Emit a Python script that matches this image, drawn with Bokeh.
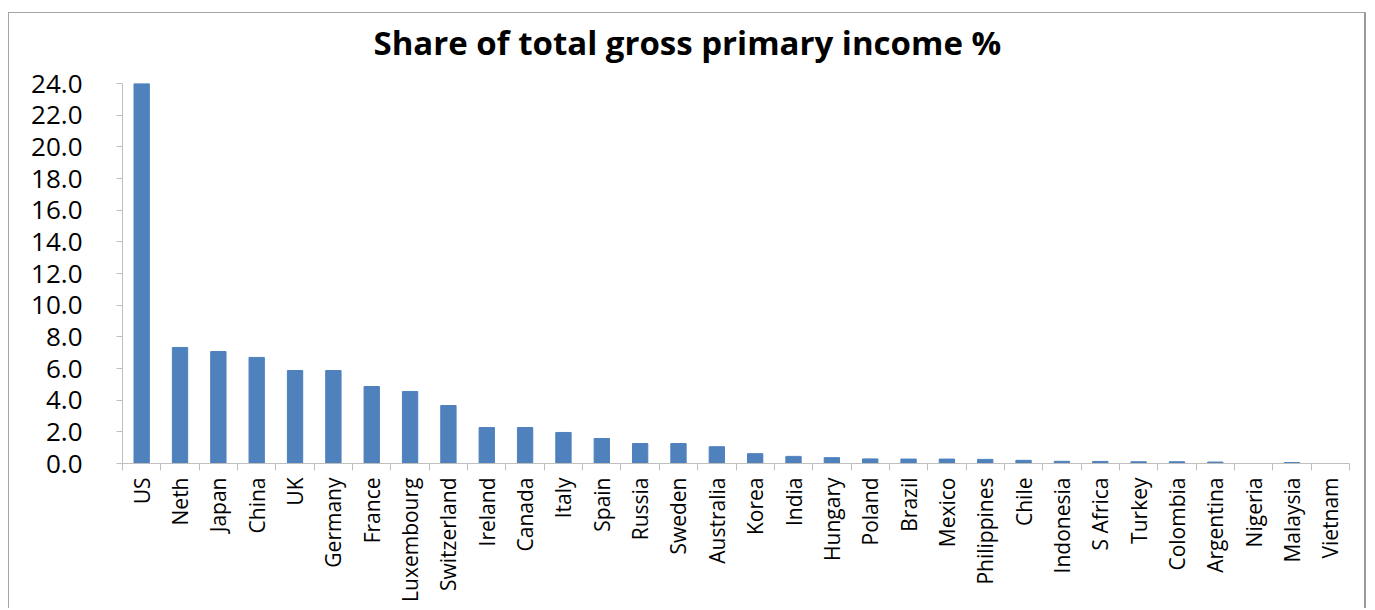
import numpy as np
from bokeh.plotting import figure
from bokeh.models import FixedTicker, Range1d, ColumnDataSource, NumeralTickFormatter, Title
from bokeh.embed import file_html
from bokeh.resources import INLINE

countries = ["US", "Neth", "Japan", "China", "UK", "Germany", "France", "Luxembourg",
             "Switzerland", "Ireland", "Canada", "Italy", "Spain", "Russia", "Sweden",
             "Australia", "Korea", "India", "Hungary", "Poland", "Brazil", "Mexico",
             "Philippines", "Chile", "Indonesia", "S Africa", "Turkey", "Colombia",
             "Argentina", "Nigeria", "Malaysia", "Vietnam"]
shares = [24.0, 7.33, 7.07, 6.70, 5.87, 5.87, 4.86, 4.55,
          3.66, 2.27, 2.27, 1.96, 1.58, 1.26, 1.26,
          1.06, 0.62, 0.45, 0.37, 0.29, 0.28, 0.28,
          0.26, 0.20, 0.14, 0.13, 0.11, 0.11,
          0.09, 0.0, 0.06, 0.0]
y_ticks = [0, 2, 4, 6, 8, 10, 12, 14, 16, 18, 20, 22, 24]
title_text = "Share of total gross primary income %"

n = len(countries)
x = np.arange(n) + 0.5
src = ColumnDataSource(dict(x=x, top=shares, name=countries))

p = figure(width=1358, height=596, output_backend="svg", toolbar_location=None,
           x_range=Range1d(0, n), y_range=Range1d(0, 24),
           min_border_left=113, min_border_right=18, min_border_top=69, min_border_bottom=146)
p.margin = (12, 0, 0, 8)
p.styles = {"border-top": "1px solid #a6a6a6", "border-left": "1px solid #a6a6a6",
            "border-right": "2px solid #9a9a9a"}

p.vbar(x="x", top="top", width=0.4, source=src, color="#4F81BD")

# thin spacer between plot frame and title, lifting the title up
spacer = Title(text=" ", text_font_size="1px", standoff=8)
p.add_layout(spacer, "above")
main_title = Title(text=title_text, text_font="Open Sans", text_font_style="bold",
                   text_font_size="33px", align="left", offset=251,
                   vertical_align="top", standoff=12, text_color="#000000")
p.add_layout(main_title, "above")

p.xgrid.visible = False
p.ygrid.visible = False
p.outline_line_color = None

gray = "#bfbfbf"
xa = p.xaxis[0]
xa.ticker = FixedTicker(ticks=list(x), minor_ticks=list(range(n + 1)))
xa.major_label_overrides = {float(v): c for v, c in zip(x, countries)}
xa.major_label_orientation = np.pi / 2
xa.major_tick_out = 0
xa.major_tick_in = 0
xa.minor_tick_out = 7
xa.minor_tick_in = 0
xa.minor_tick_line_color = gray
xa.axis_line_color = gray
xa.major_label_standoff = 7
xa.major_label_text_font = "Open Sans"
xa.major_label_text_font_size = "21px"
xa.major_label_text_color = "#000000"

ya = p.yaxis[0]
ya.ticker = FixedTicker(ticks=y_ticks)
ya.formatter = NumeralTickFormatter(format="0.0")
ya.major_tick_out = 6
ya.major_tick_in = 0
ya.minor_tick_line_color = None
ya.major_tick_line_color = gray
ya.axis_line_color = gray
ya.major_label_standoff = 34
ya.major_label_text_font = "Open Sans"
ya.major_label_text_font_size = "26px"
ya.major_label_text_color = "#000000"

open("out.html", "w").write(file_html(p, INLINE))
